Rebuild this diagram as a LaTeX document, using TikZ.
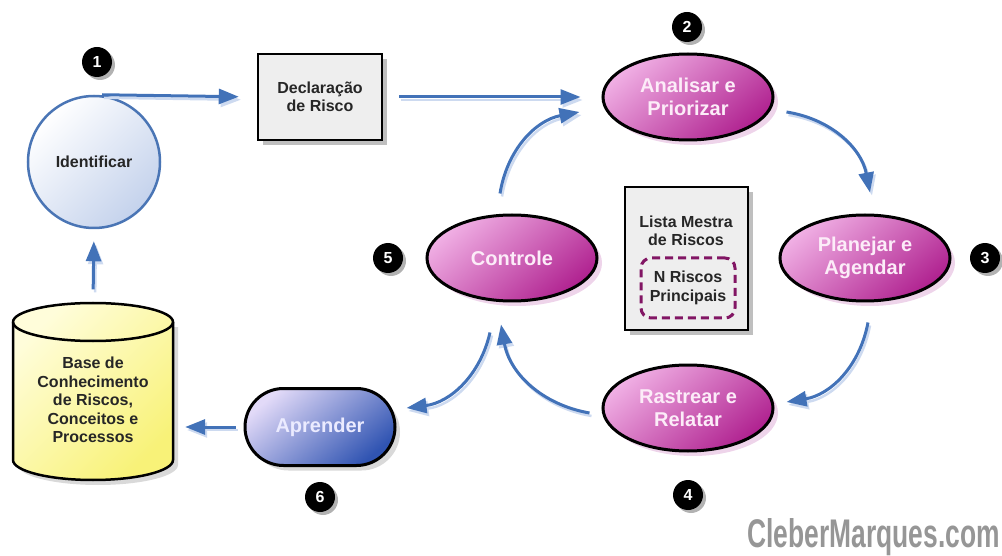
\documentclass[tikz,border=0pt]{standalone}
\usepackage{fontspec}
\setmainfont{Liberation Sans}
\usetikzlibrary{shapes.geometric,shapes.misc,arrows.meta,shadows}

\definecolor{flowblue}{RGB}{66,114,184}
\definecolor{flowlight}{RGB}{205,218,240}
\definecolor{purpdark}{RGB}{176,34,144}
\definecolor{purpmid}{RGB}{190,56,160}
\definecolor{purplight}{RGB}{240,175,228}
\definecolor{purpshadow}{RGB}{238,212,234}
\definecolor{dashpurp}{RGB}{130,22,100}
\definecolor{boxgray}{RGB}{238,238,238}
\definecolor{aprdark}{RGB}{48,84,178}
\definecolor{aprmid}{RGB}{84,110,198}
\definecolor{aprlight}{RGB}{226,218,248}
\definecolor{kbyellow}{RGB}{248,242,120}
\definecolor{kblight}{RGB}{255,253,218}
\definecolor{identblue}{RGB}{196,210,236}
\definecolor{identborder}{RGB}{74,117,181}
\definecolor{wmgray}{RGB}{150,150,150}
\definecolor{softwhite}{RGB}{252,236,248}

\begin{document}
\begin{tikzpicture}[x=1pt,y=-1pt,
  txt/.style={font=\fontsize{16}{18.5}\selectfont\bfseries, text=black!85, align=center},
  bigtxt/.style={font=\fontsize{20}{23}\selectfont\bfseries, text=softwhite, align=center},
  phase/.style={ellipse, draw=black, line width=3pt, top color=purplight, middle color=purpmid, bottom color=purpdark,
    shading angle=40, minimum width=170pt, minimum height=86pt, inner sep=0pt,
    drop shadow={fill=purpshadow, opacity=1, shadow xshift=5pt, shadow yshift=-5pt}, bigtxt},
  graybox/.style={rectangle, draw=black, line width=2.5pt, fill=boxgray, inner sep=0pt,
    drop shadow={fill=black!25, opacity=1, shadow xshift=5pt, shadow yshift=-5pt}, txt},
  badge/.style={circle, fill=black, minimum size=30pt, inner sep=0pt, text=white,
    font=\fontsize{16}{16}\selectfont\bfseries,
    drop shadow={fill=black!30, opacity=1, shadow xshift=3pt, shadow yshift=-3pt}},
  identnode/.style={circle, draw=identborder, line width=2.5pt, top color=white, bottom color=identblue,
    shading angle=45, minimum size=132pt, inner sep=0pt, txt},
  aprnode/.style={rounded rectangle, draw=black, line width=3pt, top color=aprlight, middle color=aprmid, bottom color=aprdark,
    shading angle=40, minimum width=150pt, minimum height=77pt, inner sep=0pt,
    drop shadow={fill=black!15, opacity=1, shadow xshift=5pt, shadow yshift=-5pt},
    font=\fontsize{20}{23}\selectfont\bfseries, text=white!92!blue},
  dashbox/.style={rectangle, rounded corners=10pt, draw=dashpurp, line width=3pt,
    dash pattern=on 8pt off 5pt, minimum width=94pt, minimum height=60pt, inner sep=0pt, txt},
  flow/.style={draw=flowblue, line width=3pt, -{Triangle[length=20pt,width=15pt]},
    preaction={draw=flowlight, line width=2.5pt, transform canvas={xshift=2pt,yshift=-3pt}}},
  kbshape/.style={draw=black, line width=2.5pt, top color=kblight, bottom color=kbyellow, shading angle=45}
]
\useasboundingbox (0,0) rectangle (1002,556);

% knowledge base cylinder
\fill[black!15] (18,327) -- (18,465) .. controls (18,476) and (54,485) .. (98,485)
  .. controls (142,485) and (178,476) .. (178,465) -- (178,327) -- cycle;
\path[kbshape] (13,322) -- (13,460) .. controls (13,471) and (49,480) .. (93,480)
  .. controls (137,480) and (173,471) .. (173,460) -- (173,322)
  .. controls (173,311.5) and (137,303) .. (93,303)
  .. controls (49,303) and (13,311.5) .. (13,322) -- cycle;
\draw[black, line width=2.5pt] (13,322) .. controls (13,332.5) and (49,341) .. (93,341)
  .. controls (137,341) and (173,332.5) .. (173,322);
\node[minimum width=160pt, minimum height=177pt, inner sep=0pt] (kb) at (93,391) {};
\node[txt] (kbtxt) at (93,400) {Base de\\Conhecimento\\de Riscos,\\Conceitos e\\Processos};

% nodes
\node[identnode] (ident) at (94,162) {Identificar};
\node[badge] (b1) at (97,62) {1};
\node[graybox, minimum width=124pt, minimum height=86pt] (decl) at (320,97) {Declaração\\de Risco};

\node[phase] (ana) at (688,97) {Analisar e\\Priorizar};
\node[badge] (b2) at (687,27) {2};
\node[phase] (plan) at (865,258) {Planejar e\\Agendar};
\node[badge] (b3) at (985,258) {3};
\node[phase] (ras) at (688,408) {Rastrear e\\Relatar};
\node[badge] (b4) at (688,495) {4};
\node[phase] (ctl) at (512,258) {Controle};
\node[badge] (b5) at (388,258) {5};

\node[graybox, minimum width=123pt, minimum height=143pt] (lista) at (686.5,258.5) {};
\node[txt] (listatxt) at (686,231) {Lista Mestra\\de Riscos};
\node[dashbox] (top) at (688,288) {N Riscos\\Principais};

\node[aprnode] (apr) at (320,427) {Aprender};
\node[badge] (b6) at (320,497) {6};

% connectors
\draw[flow, shorten >=18pt] ([xshift=8pt]ident.north) -- (decl.west);
\draw[flow, shorten <=16pt, shorten >=21pt] (decl.east) -- (ana.west);
\draw[flow] ([shift={(12,15)}]ana.east) to[bend left=35] ([shift={(5,-21)}]plan.north);
\draw[flow] ([shift={(3,20)}]plan.south) to[bend left=35] ([shift={(12,-6)}]ras.east);
\draw[flow] ([shift={(-12,5)}]ras.west) to[bend left=35] ([shift={(-11,22)}]ctl.south);
\draw[flow] ([shift={(-12,-20)}]ctl.north) to[bend left=35] ([shift={(-22,15)}]ana.west);
\draw[flow] ([shift={(-22,30)}]ctl.south) to[bend left=35] ([shift={(10,-19)}]apr.east);
\draw[flow, shorten <=8pt, shorten >=12pt] (apr.west) -- (apr.west -| kb.east);
\draw[flow, shorten <=13pt, shorten >=12pt] (kb.north) -- (ident.south);

% watermark
\node[font=\fontsize{40}{40}\selectfont\bfseries, text=wmgray, anchor=base east, xscale=0.66, inner sep=0pt]
  (wm) at (1000,547) {CleberMarques.com};
\end{tikzpicture}
\end{document}
